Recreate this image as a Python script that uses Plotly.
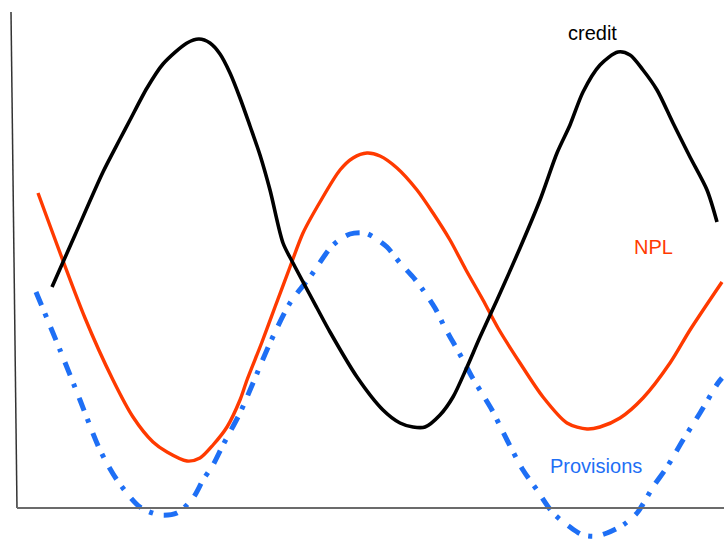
import plotly.graph_objects as go

W, H = 724, 539

# Credit cycle (x = time position, y = level)
credit_x = [52, 75, 103, 120, 130, 147, 163, 187, 199, 210, 220, 230, 240, 250, 260, 270, 283, 293,
            317, 330, 357, 383, 400, 413, 425, 440, 453, 467, 480, 497, 520, 540, 557, 570, 583, 600,
            618, 630, 643, 657, 673, 690, 707, 717]
credit_py = [287, 235, 172, 139, 120, 88, 64, 43, 39, 43, 54, 73, 98, 126, 155, 190, 243, 263,
             308, 332, 377, 410, 423, 427, 427, 415, 397, 367, 337, 300, 248, 200, 153, 125, 92, 65,
             52, 55, 70, 90, 123, 157, 190, 222]

npl_x = [38, 85, 113, 133, 153, 167, 187, 200, 213, 227, 240, 247, 262, 275, 290, 303, 320, 340, 353,
         367, 380, 397, 417, 433, 450, 466, 483, 498, 520, 543, 567, 587, 600, 620, 643, 670, 690, 722]
npl_py = [193, 318, 380, 417, 442, 452, 461, 458, 445, 427, 400, 380, 342, 307, 267, 233, 202, 170, 158,
          153, 156, 168, 190, 213, 240, 270, 300, 328, 363, 397, 423, 429, 427, 418, 398, 363, 330, 282]

prov_x = [36, 60, 80, 100, 117, 140, 160, 177, 193, 203, 213, 223, 240, 253, 270, 290, 310, 333, 350,
          365, 375, 387, 400, 413, 423, 435, 445, 453, 463, 472, 483, 492, 507, 523, 537, 553, 570, 583,
          597, 607, 623, 637, 653, 667, 683, 700, 718, 722]
prov_py = [292, 350, 400, 450, 480, 507, 515, 513, 498, 480, 465, 445, 413, 383, 343, 303, 277, 245, 234,
           233, 238, 247, 263, 277, 290, 308, 328, 342, 360, 377, 395, 410, 440, 470, 490, 513, 527, 535,
           536, 533, 525, 513, 487, 467, 440, 413, 383, 378]

labels = ["credit", "NPL", "Provisions"]
label_x = [592, 653, 596]
label_py = [33, 247, 466]

def val(py):
    return [H - p for p in py]

fig = go.Figure()
fig.add_trace(go.Scatter(x=npl_x, y=val(npl_py), mode="lines",
                         line=dict(color="#ff3a00", width=3.4, shape="spline", smoothing=0.8)))
fig.add_trace(go.Scatter(x=prov_x, y=val(prov_py), mode="lines",
                         line=dict(color="#1e6ff5", width=5, shape="spline", smoothing=0.8,
                                   dash="14px,9px,4px,11px")))
fig.add_trace(go.Scatter(x=credit_x, y=val(credit_py), mode="lines",
                         line=dict(color="#000000", width=3.6, shape="spline", smoothing=0.8)))

colors = ["#000000", "#ff3a00", "#1e6ff5"]
for t, x, py, c in zip(labels, label_x, label_py, colors):
    fig.add_annotation(x=x, y=H - py, text=t, showarrow=False, xref="x", yref="y",
                       font=dict(family="Liberation Sans, Arial, sans-serif", size=20, color=c))

# hand-drawn axes
fig.add_shape(type="line", xref="paper", yref="paper", x0=11/W, y0=1-12/H, x1=17/W, y1=1-508/H,
              line=dict(color="#333333", width=1.5))
fig.add_shape(type="line", xref="paper", yref="paper", x0=17/W, y0=1-508/H, x1=1, y1=1-508/H,
              line=dict(color="#6b6b6b", width=2.2))

fig.update_layout(width=W, height=H, margin=dict(l=0, r=0, t=0, b=0),
                  paper_bgcolor="white", plot_bgcolor="white", showlegend=False,
                  xaxis=dict(range=[0, W], visible=False, fixedrange=True),
                  yaxis=dict(range=[0, H], visible=False, fixedrange=True))
fig.write_html("out.html", config={"displayModeBar": False},
               post_script="document.body.style.margin='0';document.body.style.overflow='hidden';")
